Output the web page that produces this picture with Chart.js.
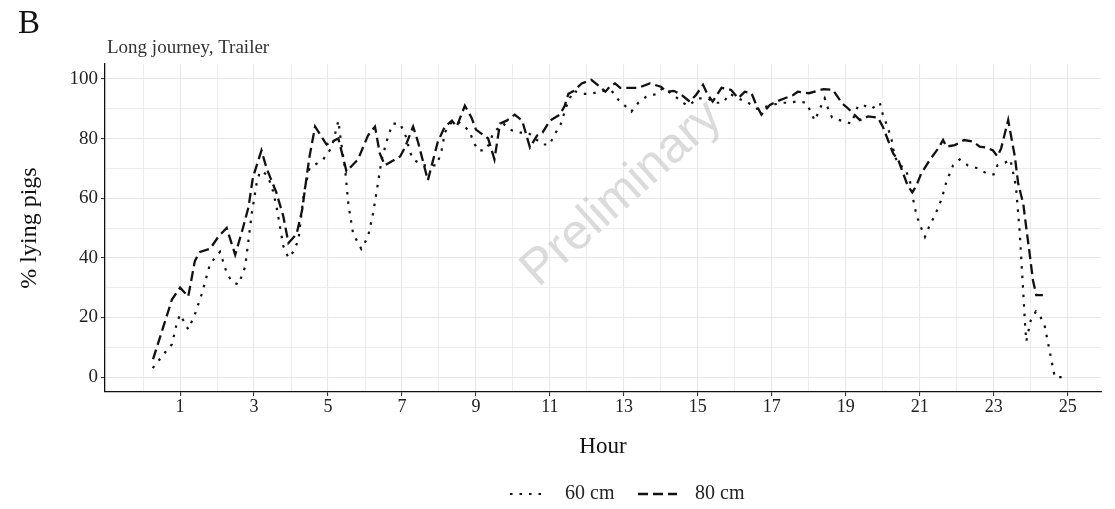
<!DOCTYPE html>
<html>
<head>
<meta charset="utf-8">
<script src="https://cdn.jsdelivr.net/npm/chart.js@4.4.1/dist/chart.umd.min.js"></script>
<style>
  html, body { margin: 0; padding: 0; background: #fff; }
</style>
</head>
<body>
<canvas id="lyingChart" width="1115" height="509"></canvas>
<script>
/* Lying behaviour over the journey, per space allowance */
const hours60 = [0.26, 0.45, 0.64, 0.78, 0.91, 1.0, 1.22, 1.4, 1.59, 1.81, 2.08, 2.26, 2.4, 2.58, 2.76, 2.94, 3.07, 3.16, 3.34, 3.48,
  3.61, 3.79, 3.93, 4.06, 4.2, 4.35, 4.5, 4.87, 5.1, 5.28, 5.35, 5.46, 5.55, 5.68, 5.9, 6.08, 6.22, 6.35, 6.45, 6.63,
  6.75, 6.95, 7.13, 7.2, 7.3, 7.57, 7.94, 8.07, 8.16, 8.3, 8.48, 8.7, 8.84, 8.93, 9.06, 9.24, 9.35, 9.47, 9.74, 9.92,
  10.14, 10.41, 10.6, 10.8, 11.0, 11.1, 11.27, 11.45, 11.63, 11.9, 12.12, 12.4, 12.67, 12.85, 13.03, 13.2, 13.39, 13.6, 13.9, 14.05,
  14.3, 14.6, 14.74, 15.0, 15.27, 15.45, 15.68, 15.86, 16.09, 16.36, 16.6, 16.95, 17.22, 17.49, 17.7, 17.93, 18.05, 18.16, 18.3, 18.43,
  18.52, 18.63, 18.88, 19.15, 19.33, 19.51, 19.7, 19.92, 20.0, 20.13, 20.25, 20.32, 20.46, 20.6, 20.73, 20.86, 20.95, 21.04, 21.14, 21.27,
  21.4, 21.5, 21.6, 21.68, 21.77, 21.9, 22.08, 22.3, 22.57, 22.85, 23.0, 23.1, 23.32, 23.45, 23.6, 23.7, 23.8, 23.84, 23.88, 24.0,
  24.14, 24.27, 24.38, 24.65, 24.95];
const lying60 = [3, 6, 9, 11, 18, 21, 16, 21, 28, 38, 42, 35, 32, 31, 37, 55, 65, 69, 68, 64,
  57, 44, 40, 42, 46, 62, 70, 73, 77, 86, 79, 70, 58, 48, 43, 47, 55, 65, 73, 81,
  85, 85, 80, 76, 73, 71, 71, 76, 82, 85, 86, 84, 82, 79, 76, 76, 78, 82, 85, 83,
  82, 82, 80, 78, 78, 81, 84, 91, 96, 95, 95, 96, 96, 93, 91, 89, 92, 94, 95, 97,
  95, 92, 91, 93.5, 93.5, 92, 92, 95, 93.5, 92, 90, 91, 92, 92, 92.5, 92, 89, 86, 90, 93.5,
  90, 87, 86, 85, 91, 91, 90, 92, 88, 84, 79, 74, 71, 70, 66, 57, 53, 50, 47, 51,
  54, 57, 60, 64, 67, 71, 73, 71, 70, 68, 68, 71, 72, 73, 64, 49, 28, 19, 12, 19,
  22, 20, 17, 0, 0];

const hours80 = [0.27, 0.55, 0.78, 1.0, 1.22, 1.4, 1.54, 1.81, 2.03, 2.26, 2.49, 2.7, 2.85, 2.97, 3.2, 3.34, 3.6, 3.79, 3.93, 4.15,
  4.3, 4.42, 4.5, 4.65, 4.96, 5.28, 5.5, 5.81, 6.08, 6.27, 6.4, 6.54, 6.95, 7.08, 7.3, 7.43, 7.7, 7.97, 8.16, 8.35,
  8.48, 8.7, 8.88, 9.0, 9.33, 9.5, 9.65, 9.83, 10.05, 10.25, 10.46, 10.65, 10.8, 11.0, 11.27, 11.4, 11.5, 11.65, 11.86, 12.12,
  12.35, 12.5, 12.62, 12.76, 12.9, 13.07, 13.39, 13.7, 14.0, 14.15, 14.35, 14.56, 14.78, 14.95, 15.14, 15.27, 15.4, 15.64, 15.9, 16.09,
  16.27, 16.45, 16.58, 16.72, 16.95, 17.13, 17.35, 17.58, 17.7, 18.0, 18.4, 18.65, 18.9, 19.07, 19.38, 19.6, 19.87, 20.0, 20.14, 20.28,
  20.42, 20.55, 20.68, 20.8, 20.9, 21.04, 21.27, 21.5, 21.63, 21.72, 21.95, 22.2, 22.44, 22.62, 22.8, 22.98, 23.1, 23.2, 23.39, 23.57,
  23.66, 23.8, 23.88, 23.97, 24.06, 24.15, 24.33];
const lying80 = [6, 17, 26, 30, 27, 39, 42, 43, 47, 50, 41, 50, 57, 67, 76, 70, 62, 54, 45, 48,
  56, 67, 74, 84, 78, 80, 69, 73, 81, 84, 75, 71, 74, 77, 84, 79, 66, 79, 84, 86,
  84, 91, 87, 83, 80, 73, 85, 86, 88, 86, 77, 81, 82, 86, 88, 91, 95, 96, 98.5, 99.7,
  97.4, 95.7, 97.4, 98.5, 97, 97, 97, 98.5, 97.4, 95.7, 96, 94.6, 92.4, 94.6, 98, 94.6, 92.4, 97, 96.3, 93.5,
  95.7, 95.2, 91.3, 88, 91.3, 92.4, 93.5, 94.6, 95.7, 95.2, 96.6, 96.3, 91.8, 90, 86.2, 87.4, 87, 84, 79.5, 75,
  72.8, 68.3, 64, 62, 64, 68.3, 72.8, 76.7, 79.5, 77.3, 77.8, 79.5, 79, 77.3, 77, 76, 74, 76.7, 86.2, 74,
  65, 58, 50, 41.5, 32.5, 27.5, 27.5];

const hourLabels = [1, 3, 5, 7, 9, 11, 13, 15, 17, 19, 21, 23, 25];
const pctLabels = [0, 20, 40, 60, 80, 100];

const serif = '"Liberation Serif", "Times New Roman", serif';

function toPoints(xs, ys) {
  return xs.map((x, i) => ({ x: x, y: ys[i] }));
}

// panel tag, subtitle and the watermark
const annotations = {
  id: 'annotations',
  afterDraw(chart) {
    const ctx = chart.ctx;
    const area = chart.chartArea;
    ctx.save();
    ctx.fillStyle = '#111';
    ctx.textBaseline = 'alphabetic';
    ctx.textAlign = 'left';
    ctx.font = '33px ' + serif;
    ctx.fillText('B', 18, 33);
    ctx.fillStyle = '#333';
    ctx.font = '19px ' + serif;
    ctx.fillText('Long journey, Trailer', area.left + 2, 53);

    ctx.translate(622, 194);
    ctx.rotate(-42 * Math.PI / 180);
    ctx.font = '50px "Liberation Sans", Arial, sans-serif';
    ctx.fillStyle = 'rgba(190, 190, 190, 0.55)';
    ctx.textAlign = 'center';
    ctx.textBaseline = 'middle';
    ctx.fillText('Preliminary', 0, 0);
    ctx.restore();
  }
};

// bottom key: line sample + label for each dataset
const lineKey = {
  id: 'lineKey',
  afterDraw(chart) {
    const ctx = chart.ctx;
    const keys = [{ x0: 510, x1: 546, tx: 565 }, { x0: 638, x1: 677, tx: 695 }];
    const y = 494;
    ctx.save();
    chart.data.datasets.forEach((ds, i) => {
      const k = keys[i];
      ctx.beginPath();
      ctx.setLineDash(ds.borderDash || []);
      ctx.lineWidth = ds.borderWidth;
      ctx.strokeStyle = ds.borderColor;
      ctx.moveTo(k.x0, y);
      ctx.lineTo(k.x1, y);
      ctx.stroke();
      ctx.setLineDash([]);
      ctx.fillStyle = '#222';
      ctx.font = '20px ' + serif;
      ctx.textAlign = 'left';
      ctx.textBaseline = 'middle';
      ctx.fillText(ds.label, k.tx, y);
    });
    ctx.restore();
  }
};

const ctx = document.getElementById('lyingChart');

new Chart(ctx, {
  type: 'line',
  data: {
    datasets: [{
      label: '60 cm',
      data: toPoints(hours60, lying60),
      borderColor: '#111',
      backgroundColor: '#111',
      borderWidth: 2.2,
      borderDash: [2.5, 7],
      pointRadius: 0,
      tension: 0
    }, {
      label: '80 cm',
      data: toPoints(hours80, lying80),
      borderColor: '#111',
      backgroundColor: '#111',
      borderWidth: 2.3,
      borderDash: [10, 5],
      pointRadius: 0,
      tension: 0
    }]
  },
  options: {
    responsive: false,
    animation: false,
    devicePixelRatio: 1,
    layout: { padding: { left: 0, top: 64, right: 14, bottom: 31 } },
    plugins: {
      tooltip: { enabled: false },
      legend: { display: false }
    },
    scales: {
      x: {
        type: 'linear',
        min: -1.03,
        max: 25.9,
        afterBuildTicks(axis) {
          const t = [];
          for (let h = 0; h <= 25; h++) t.push({ value: h });
          axis.ticks = t;
        },
        afterFit(axis) { axis.height = 86; },
        ticks: {
          autoSkip: false,
          maxRotation: 0,
          color: '#222',
          padding: 0,
          font: { family: serif, size: 18 },
          callback: v => hourLabels.includes(v) ? String(v) : ''
        },
        grid: {
          color: '#e8e8e8',
          lineWidth: c => (c.tick && hourLabels.includes(c.tick.value)) ? 1.1 : 0.8,
          tickLength: 4,
          tickColor: c => (c.tick && hourLabels.includes(c.tick.value)) ? '#333' : 'rgba(0,0,0,0)'
        },
        border: { display: true, color: '#111', width: 1.3 },
        title: {
          display: true,
          text: 'Hour',
          color: '#111',
          font: { family: serif, size: 23 },
          padding: { top: 17, bottom: 17 }
        }
      },
      y: {
        min: -5,
        max: 105,
        afterBuildTicks(axis) {
          const t = [];
          for (let v = 0; v <= 100; v += 10) t.push({ value: v });
          axis.ticks = t;
        },
        afterFit(axis) { axis.width = 105; },
        ticks: {
          color: '#222',
          padding: 3,
          font: { family: serif, size: 19 },
          callback: v => pctLabels.includes(v) ? String(v) : ''
        },
        grid: {
          color: '#e8e8e8',
          lineWidth: c => (c.tick && pctLabels.includes(c.tick.value)) ? 1.1 : 0.8,
          tickLength: 4,
          tickColor: c => (c.tick && pctLabels.includes(c.tick.value)) ? '#333' : 'rgba(0,0,0,0)'
        },
        border: { display: true, color: '#111', width: 1.3 },
        title: {
          display: true,
          text: '% lying pigs',
          color: '#111',
          font: { family: serif, size: 24 },
          padding: { top: 15, bottom: 15 }
        }
      }
    }
  },
  plugins: [annotations, lineKey]
});
</script>
</body>
</html>
